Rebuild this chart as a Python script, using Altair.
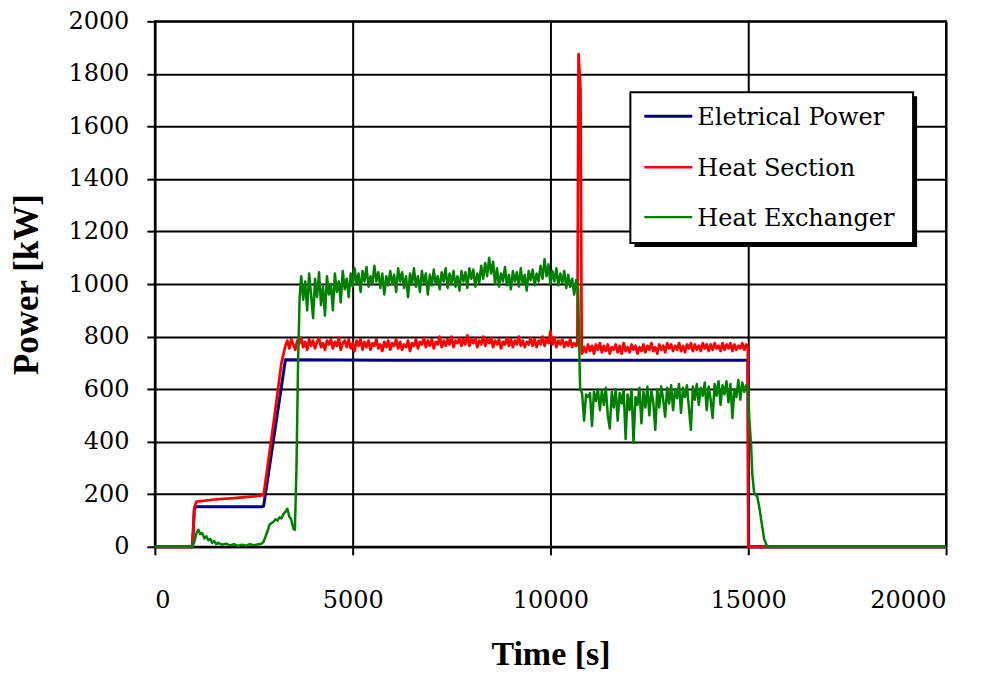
import altair as alt
import pandas as pd

# ---------------- data ----------------
series_names = ["Eletrical Power", "Heat Section", "Heat Exchanger"]
series_colors = ["#000080", "#FF0000", "#008000"]
series_widths = [3, 2.5, 2.2]

x_ticks = [0, 5000, 10000, 15000, 20000]
y_ticks = [0, 200, 400, 600, 800, 1000, 1200, 1400, 1600, 1800, 2000]

# Electrical power (kW)
elec_t = [0, 950, 1000, 1050, 2700, 2750, 3300, 6000, 10000, 14990, 15010, 20000]
elec_p = [0, 0, 148, 152, 152, 155, 712, 710, 710, 710, 0, 0]

# Heat section (kW)
red_start_t = [0, 950, 1000, 1050, 1500, 2000, 2500, 2750, 3000, 3200]
red_start_p = [0, 0, 150, 172, 180, 185, 192, 197, 470, 700]
red_step = 50
red_plateau1_t0 = 3300
red_plateau1 = [765, 785, 755, 790, 770, 750, 785, 775, 795, 760, 780, 750, 790, 765, 785, 755,
                780, 795, 760, 775, 750, 785, 770, 790, 755, 780, 765, 795, 750, 775, 785, 760,
                790, 755, 775, 745, 785, 765, 790, 750, 780, 760, 785, 750, 775, 765, 790, 755,
                770, 745, 780, 760, 785, 750, 775, 765, 790, 755, 780, 750, 770, 760, 785, 745,
                775, 765, 790, 755, 780, 770, 795, 760, 785, 765, 790, 755, 780, 770, 800, 760,
                785, 765, 790, 770, 800, 760, 785, 775, 795, 765, 790, 770, 805, 765, 790, 775,
                795, 760, 785, 770, 800, 765, 790, 775, 795, 760, 785, 770, 790, 755, 780, 770,
                795, 765, 790, 760, 785, 770, 800, 765, 785, 760, 780, 770, 795, 765, 790, 760,
                785, 770, 800, 765, 790, 775, 820, 770, 795, 760, 785, 770, 790, 760, 780, 765,
                790, 760, 775, 765]
red_spike_t = [10680, 10710, 10760, 10790]
red_spike_p = [770, 1875, 1740, 740]
red_plateau2_t0 = 10800
red_plateau2 = [735, 760, 740, 770, 745, 765, 735, 770, 750, 775, 740, 765, 745, 770, 735, 760,
                750, 770, 740, 765, 735, 775, 745, 760, 740, 770, 750, 765, 735, 760, 745, 770,
                740, 765, 750, 775, 745, 760, 735, 770, 750, 765, 740, 775, 755, 770, 745, 765,
                750, 775, 745, 765, 740, 770, 755, 775, 745, 770, 750, 765, 745, 775, 755, 770,
                745, 770, 750, 775, 755, 765, 745, 775, 750, 770, 755, 775, 745, 770, 750, 765,
                755, 775, 750, 770]
red_end_t = [14990, 15000, 20000]
red_end_p = [760, 0, 0]

# Heat exchanger (kW)
green_start_t = [0, 950, 1000, 1050, 1100, 1150, 1200, 1250, 1300, 1350, 1400, 1450, 1500,
                 1550, 1600, 1700, 1800, 1900, 2000, 2100, 2200, 2300, 2400, 2500, 2600, 2700,
                 2750, 2800, 2850, 2900, 2950, 3000, 3050, 3100, 3150, 3200, 3250, 3300, 3350,
                 3400, 3450, 3500, 3540, 3580, 3620, 3660]
green_start_p = [0, 0, 20, 50, 65, 48, 52, 32, 40, 25, 30, 15, 22, 10, 15, 8, 12, 5, 10, 3, 8,
                 4, 10, 6, 9, 12, 20, 40, 60, 85, 90, 95, 105, 100, 112, 108, 125, 133, 145, 115,
                 102, 70, 64, 300, 700, 950]
green_step = 50
green_plateau1_t0 = 3700
green_plateau1 = [1030, 940, 1010, 900, 1040, 960, 870, 1020, 950, 1045, 920, 990, 880, 1030, 960,
                  1000, 900, 1040, 970, 1010, 930, 1050, 980, 1020, 950, 1040, 990, 1060, 1000,
                  1040, 970, 1050, 1010, 1065, 990, 1030, 1000, 1070, 1010, 1045, 985, 1040, 960,
                  1030, 995, 1050, 1000, 1035, 970, 1060, 1010, 1045, 985, 1030, 950, 1040, 1000,
                  1060, 990, 1030, 970, 1050, 1005, 1040, 960, 1035, 995, 1055, 1000, 1030, 980,
                  1045, 1010, 1060, 985, 1040, 1000, 1050, 990, 1030, 975, 1050, 1010, 1045, 985,
                  1060, 1020, 1055, 990, 1040, 1005, 1070, 1020, 1080, 1030, 1100, 1040, 1085,
                  1000, 1060, 990, 1040, 1010, 1065, 995, 1035, 980, 1050, 1010, 1045, 990, 1060,
                  1000, 1035, 975, 1050, 1015, 1055, 995, 1040, 1010, 1070, 1020, 1095, 1030, 1075,
                  1000, 1050, 1010, 1060, 995, 1040, 1005, 1050, 985, 1035, 990, 1020, 960, 1015]
green_drop_t = [10700]
green_drop_p = [980]
green_plateau2_t0 = 10750
green_plateau2 = [600, 585, 480, 580, 570, 585, 460, 590, 555, 600, 520, 595, 540, 605, 500, 450,
                  590, 530, 600, 480, 585, 545, 600, 410, 580, 520, 600, 395, 570, 540, 605, 470,
                  590, 530, 610, 500, 595, 550, 445, 600, 530, 610, 560, 495, 605, 545, 615, 520,
                  600, 565, 620, 510, 605, 570, 615, 530, 445, 610, 560, 620, 540, 605, 575, 625,
                  520, 610, 560, 490, 620, 575, 630, 540, 615, 580, 630, 550, 620, 490, 600, 570,
                  635, 560, 625, 590, 615]
green_end_t = [15000, 15025, 15075, 15100, 15150, 15230, 15280, 15330, 15400, 15480, 20000]
green_end_p = [600, 490, 380, 280, 205, 190, 150, 100, 30, 0, 0]

# ---------------- assemble table ----------------
rows = []


def add(name, ts, ps):
    for t, p in zip(ts, ps):
        rows.append({"series": name, "t": t, "p": p, "i": len(rows)})


add(series_names[0], elec_t, elec_p)
add(series_names[1], red_start_t, red_start_p)
add(series_names[1], [red_plateau1_t0 + red_step * k for k in range(len(red_plateau1))], red_plateau1)
add(series_names[1], red_spike_t, red_spike_p)
add(series_names[1], [red_plateau2_t0 + red_step * k for k in range(len(red_plateau2))], red_plateau2)
add(series_names[1], red_end_t, red_end_p)
add(series_names[2], green_start_t, green_start_p)
add(series_names[2], [green_plateau1_t0 + green_step * k for k in range(len(green_plateau1))], green_plateau1)
add(series_names[2], green_drop_t, green_drop_p)
add(series_names[2], [green_plateau2_t0 + green_step * k for k in range(len(green_plateau2))], green_plateau2)
add(series_names[2], green_end_t, green_end_p)
df = pd.DataFrame(rows)

LABEL_FONT = "DejaVu Serif"
TITLE_FONT = "Liberation Serif"

lines = alt.Chart(df).mark_line(strokeJoin="round").encode(
    x=alt.X("t:Q", scale=alt.Scale(domain=[0, 20000], nice=False),
            axis=alt.Axis(values=x_ticks, title="Time [s]", format="d",
                          labelPadding=34, titlePadding=25, titleFontSize=34)),
    y=alt.Y("p:Q", scale=alt.Scale(domain=[0, 2000], nice=False),
            axis=alt.Axis(values=y_ticks, title="Power [kW]", format="d",
                          labelPadding=18, titlePadding=23)),
    color=alt.Color("series:N", scale=alt.Scale(domain=series_names, range=series_colors),
                    legend=None),
    strokeWidth=alt.StrokeWidth("series:N", scale=alt.Scale(domain=series_names, range=series_widths),
                                legend=None),
    order=alt.Order("i:Q"),
)

# ---------------- legend box (Excel style, with drop shadow) ----------------
one = pd.DataFrame({"k": [0]})
LX0, LX1, LY0, LY1 = 476, 759, 71, 222      # legend box, pixels inside the plot area
SHADOW = 4
ROW_Y = [95, 146, 196]
SYM_X0, SYM_X1, TXT_X = 490, 538, 543

shadow = alt.Chart(one).mark_rect(color="black").encode(
    x=alt.value(LX0 + SHADOW), x2=alt.value(LX1 + SHADOW),
    y=alt.value(LY0 + SHADOW), y2=alt.value(LY1 + SHADOW))
box = alt.Chart(one).mark_rect(fill="white", stroke="black", strokeWidth=2).encode(
    x=alt.value(LX0), x2=alt.value(LX1), y=alt.value(LY0), y2=alt.value(LY1))

legend_layers = [shadow, box]
for k, name in enumerate(series_names):
    legend_layers.append(
        alt.Chart(one).mark_rule(color=series_colors[k], strokeWidth=series_widths[k] if k else 3).encode(
            x=alt.value(SYM_X0), x2=alt.value(SYM_X1), y=alt.value(ROW_Y[k])))
    legend_layers.append(
        alt.Chart(one).mark_text(align="left", baseline="middle", font=LABEL_FONT,
                                 fontSize=24, color="black").encode(
            x=alt.value(TXT_X), y=alt.value(ROW_Y[k] + 2), text=alt.value(name)))

chart = alt.layer(lines, *legend_layers).properties(
    width=792, height=526,
    autosize=alt.AutoSizeParams(type="none"),
    padding={"left": 147, "top": 13, "right": 40, "bottom": 128},
).configure_view(
    stroke="black", strokeWidth=2
).configure_axis(
    grid=True, gridColor="black", gridWidth=2, gridOpacity=1,
    domainColor="black", domainWidth=2,
    tickColor="black", tickWidth=2, tickSize=8,
    labelFont=LABEL_FONT, labelFontSize=24, labelColor="black",
    titleFont=TITLE_FONT, titleFontSize=35, titleFontWeight="bold", titleColor="black",
)

chart.save("out.html", embed_options={"renderer": "svg", "actions": False})
